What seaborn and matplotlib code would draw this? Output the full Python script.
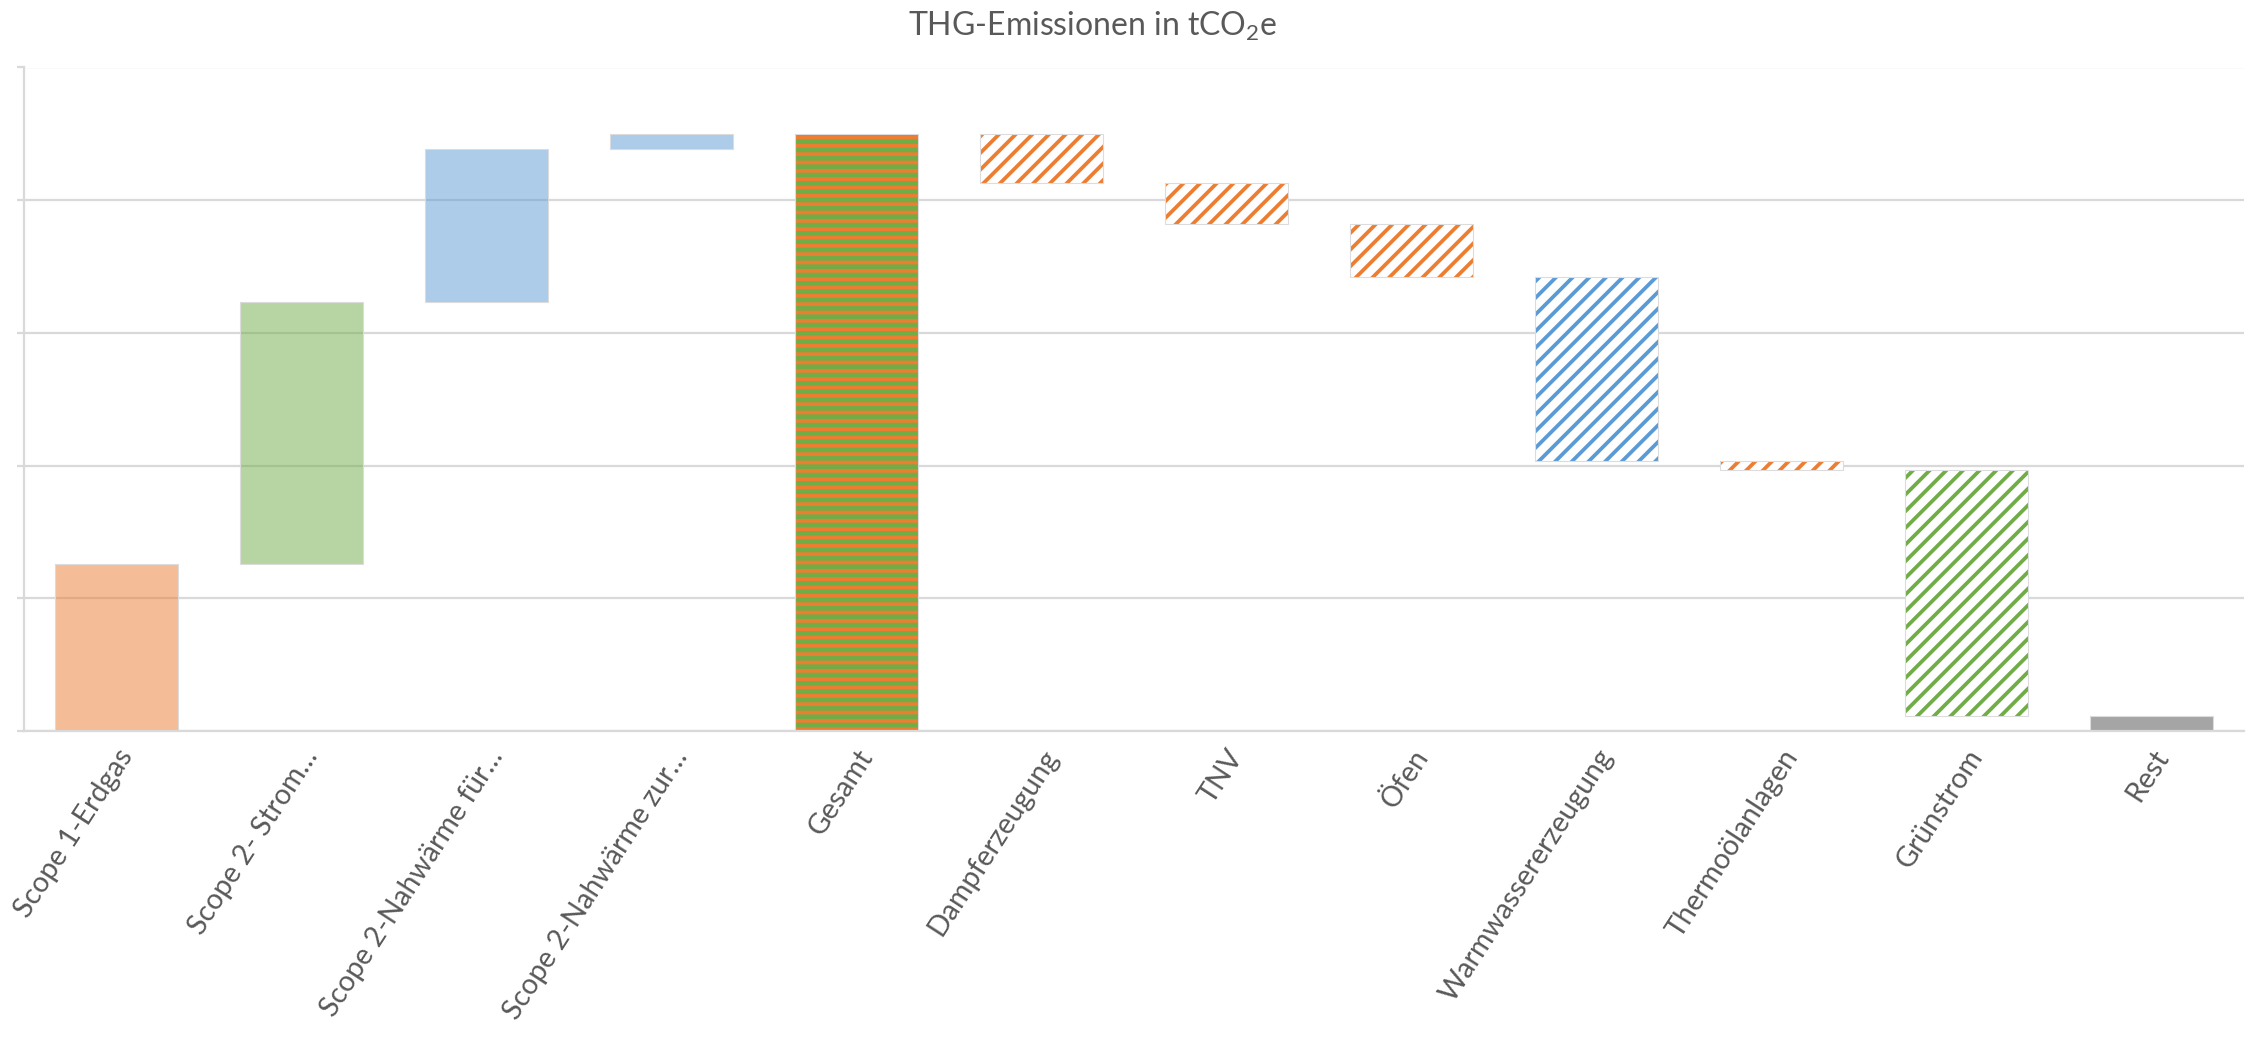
import numpy as np
import pandas as pd
import matplotlib
matplotlib.use("Agg")
import matplotlib.pyplot as plt
import seaborn as sns

# --- data (tCO2e) ---------------------------------------------------------
source_labels = ["Scope 1-Erdgas", "Scope 2- Strom…",
                 "Scope 2-Nahwärme für…", "Scope 2-Nahwärme zur…"]
source_values = [1256, 1975, 1153, 117]

total_label = "Gesamt"

measure_labels = ["Dampferzeugung", "TNV", "Öfen", "Warmwassererzeugung",
                  "Thermoölanlagen", "Grünstrom"]
measure_values = [369, 312, 402, 1381, 70, 1852]

rest_label = "Rest"

# --- waterfall geometry from the data ---------------------------------------
total = sum(source_values)
rest = total - sum(measure_values)

categories = source_labels + [total_label] + measure_labels + [rest_label]
heights, bottoms = [], []
level = 0
for v in source_values:
    bottoms.append(level)
    heights.append(v)
    level += v
bottoms.append(0)
heights.append(total)
for v in measure_values:
    level -= v
    bottoms.append(level)
    heights.append(v)
bottoms.append(0)
heights.append(rest)

df = pd.DataFrame({"Kategorie": categories, "Wert": heights, "Basis": bottoms})

# --- styling ----------------------------------------------------------------
ORANGE = "#ED7D31"
GREEN = "#70AD47"
BLUE = "#5B9BD5"
GREY = "#A5A5A5"
GRID = "#D9D9D9"
TEXT = "#595959"

# fill style per bar: (mode, colour)
styles = [("soft", ORANGE), ("soft", GREEN), ("soft", BLUE), ("soft", BLUE),
          ("stripes", None),
          ("hatch", ORANGE), ("hatch", ORANGE), ("hatch", ORANGE),
          ("hatch", BLUE), ("hatch", ORANGE), ("hatch", GREEN),
          ("solid", GREY)]

sns.set_theme(style="white")
plt.rcParams["font.family"] = ["Lato", "DejaVu Sans"]
plt.rcParams["mathtext.fontset"] = "custom"
plt.rcParams["mathtext.rm"] = "Lato"
plt.rcParams["mathtext.it"] = "Lato"
plt.rcParams["hatch.linewidth"] = 2.7

W, H = 2254, 1042
fig = plt.figure(figsize=(W / 100, H / 100), dpi=100)
ax = fig.add_axes([24 / W, 1 - 731 / H, (2244 - 24) / W, (731 - 67.5) / H])

sns.barplot(data=df, x="Kategorie", y="Wert", bottom=df["Basis"].to_numpy(),
            width=0.667, color=GREY, linewidth=0, ax=ax, zorder=2)

for patch, (mode, col) in zip(ax.patches, styles):
    patch.set_linewidth(0)
    if mode == "soft":
        patch.set_facecolor(matplotlib.colors.to_rgba(col, 0.5))
    elif mode == "stripes":
        patch.set_facecolor(GREEN)
        patch.set_edgecolor(ORANGE)
        patch.set_hatch("--")
    elif mode == "hatch":
        patch.set_facecolor("white")
        patch.set_edgecolor(col)
        patch.set_hatch("//")
    else:
        patch.set_facecolor(col)

# thin light outline around every bar
ax.bar(np.arange(len(categories)), df["Wert"], bottom=df["Basis"], width=0.667,
       fill=False, edgecolor="#DCDCDC", linewidth=0.8, zorder=3)

ax.set_xlim(-0.5, len(categories) - 0.5)
ax.set_ylim(0, 5000)
ax.set_yticks(np.arange(0, 5001, 1000))
ax.yaxis.grid(True, color=GRID, linewidth=1.6, zorder=0)
ax.set_axisbelow(True)
ax.tick_params(axis="y", which="both", left=True, length=5, width=1.6,
               color=GRID, labelleft=False)
ax.tick_params(axis="x", bottom=False, pad=4)
for side in ["top", "right"]:
    ax.spines[side].set_visible(False)
for side in ["left", "bottom"]:
    ax.spines[side].set_color(GRID)
    ax.spines[side].set_linewidth(1.6)

ax.set_xlabel("")
ax.set_ylabel("")
ax.set_xticks(np.arange(len(categories)))
ax.set_xticklabels(categories, rotation=57, ha="right", va="top",
                   rotation_mode="anchor", fontsize=20.5, color=TEXT)

fig.text(1093 / W, 1 - 26 / H, r"THG-Emissionen in tCO$_2$e",
         ha="center", va="center", fontsize=23, color=TEXT)

fig.savefig("out.png", dpi=100, facecolor="white")
